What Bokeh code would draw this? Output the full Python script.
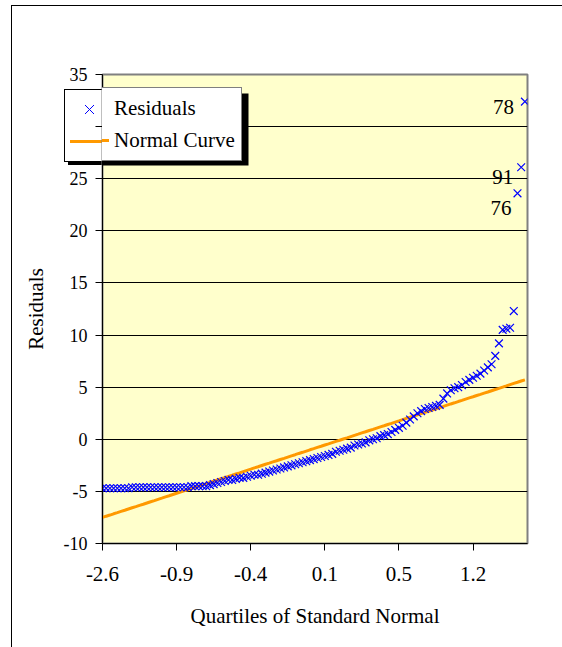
from bokeh.plotting import figure
from bokeh.models import (ColumnDataSource, FixedTicker, Legend, LegendItem,
                          BoxAnnotation, Range1d)
from bokeh.core.properties import value
from bokeh.embed import file_html
from bokeh.resources import INLINE

# ---------------- data ----------------
tick_positions = [1, 21, 41, 61, 81, 101]
tick_labels = ["-2.6", "-0.9", "-0.4", "0.1", "0.5", "1.2"]
y_ticks = [-10, -5, 0, 5, 10, 15, 20, 25, 30, 35]

residuals = [
    -4.7, -4.7, -4.7, -4.7, -4.7, -4.7, -4.7, -4.7,
    -4.6, -4.6, -4.6, -4.6, -4.6, -4.6, -4.6, -4.6,
    -4.6, -4.6, -4.6, -4.6, -4.6, -4.6, -4.6, -4.6,
    -4.5, -4.5, -4.5, -4.5,
    -4.5, -4.4, -4.3, -4.2, -4.1, -4.0, -3.9, -3.9, -3.8, -3.7,
    -3.7, -3.6, -3.5, -3.4, -3.4, -3.3, -3.2, -3.1, -3.0, -2.9, -2.8, -2.7, -2.6,
    -2.5, -2.4, -2.3, -2.2, -2.1, -2.0, -1.9, -1.8, -1.7, -1.6, -1.5, -1.4, -1.2,
    -1.1, -1.0, -0.9, -0.8, -0.6, -0.5, -0.4, -0.3, -0.1, 0.0, 0.1, 0.3, 0.4,
    0.5, 0.7, 0.9, 1.1, 1.3, 1.6, 1.9, 2.2, 2.5, 2.7,
    2.9, 3.0, 3.1, 3.2, 3.3, 3.9, 4.4, 4.7, 4.9, 5.0, 5.2, 5.5, 5.7,
    5.9, 6.1, 6.3, 6.6, 6.9, 7.2, 8.0, 9.2, 10.5, 10.6, 10.7, 12.3,
    23.6, 26.1, 32.4,
]

normal_curve = [
    -7.50, -7.38, -7.27, -7.15, -7.04, -6.92, -6.81, -6.69, -6.57, -6.46,
    -6.34, -6.23, -6.11, -5.99, -5.88, -5.76, -5.65, -5.53, -5.42, -5.30,
    -5.18, -5.07, -4.95, -4.84, -4.72, -4.60, -4.49, -4.37, -4.26, -4.14,
    -4.03, -3.91, -3.79, -3.68, -3.56, -3.45, -3.33, -3.22, -3.10, -2.98,
    -2.87, -2.75, -2.64, -2.52, -2.40, -2.29, -2.17, -2.06, -1.94, -1.83,
    -1.71, -1.59, -1.48, -1.36, -1.25, -1.13, -1.01, -0.90, -0.78, -0.67,
    -0.55, -0.44, -0.32, -0.20, -0.09, 0.03, 0.14, 0.26, 0.38, 0.49,
    0.61, 0.72, 0.84, 0.95, 1.07, 1.19, 1.30, 1.42, 1.53, 1.65,
    1.76, 1.88, 2.00, 2.11, 2.23, 2.34, 2.46, 2.58, 2.69, 2.81,
    2.92, 3.04, 3.15, 3.27, 3.39, 3.50, 3.62, 3.73, 3.85, 3.97,
    4.08, 4.20, 4.31, 4.43, 4.54, 4.66, 4.78, 4.89, 5.01, 5.12,
    5.24, 5.36, 5.47, 5.59, 5.70,
]

series_names = ["Residuals", "Normal Curve"]
label_obs = ["76", "91", "78"]          # labels for the last three points
# ---------------------------------------

FONT = "Liberation Serif"
BLUE = "#0000FF"
ORANGE = "#FF9900"

idx = list(range(1, len(residuals) + 1))
src = ColumnDataSource(dict(x=idx, resid=residuals, normal=normal_curve))

lab_src = ColumnDataSource(dict(x=idx[-3:], y=residuals[-3:], text=label_obs,
                                dx=[-6, -8, -11], dy=[15, 10, 5]))

p = figure(width=562, height=647, output_backend="svg", toolbar_location=None,
           x_range=Range1d(1, 115.7), y_range=Range1d(-10, 35),
           min_border_left=102, min_border_right=35,
           min_border_top=74, min_border_bottom=104)

p.background_fill_color = "#FFFFCC"
p.border_fill_alpha = 0
p.outline_line_color = "#808080"
p.outline_line_width = 2

# Page styling drawn behind the transparent border area:
# the outer chart-area frame and the part of the legend box that lies
# left of the plot frame (the frame clips the legend there).
_layers = [
    ("linear-gradient(45deg, transparent 46%, #0000FF 46%, #0000FF 54%, transparent 54%)", "9px 9px", "85px 105px"),
    ("linear-gradient(-45deg, transparent 46%, #0000FF 46%, #0000FF 54%, transparent 54%)", "9px 9px", "85px 105px"),
    ("linear-gradient(#FF9900,#FF9900)", "38px 3px", "70px 140px"),
    ("linear-gradient(#000,#000)", "1px 73px", "64px 89px"),
    ("linear-gradient(#000,#000)", "38px 1px", "64px 89px"),
    ("linear-gradient(#000,#000)", "38px 1px", "64px 161px"),
    ("linear-gradient(#fff,#fff)", "38px 72px", "64px 89px"),
    ("linear-gradient(#000,#000)", "34px 4px", "68px 161px"),
    ("linear-gradient(#000,#000)", "1px 100%", "11px 5px"),
    ("linear-gradient(#000,#000)", "100% 1px", "11px 5px"),
]
p.styles = {
    "background-color": "white",
    "background-image": ", ".join(l[0] for l in _layers),
    "background-size": ", ".join(l[1] for l in _layers),
    "background-position": ", ".join(l[2] for l in _layers),
    "background-repeat": "no-repeat",
}

# grid
p.xgrid.visible = False
p.ygrid.ticker = FixedTicker(ticks=y_ticks[1:-1])
p.ygrid.grid_line_color = "black"
p.ygrid.grid_line_width = 1

# axes
p.xaxis.ticker = FixedTicker(ticks=tick_positions)
p.xaxis.major_label_overrides = {t: l for t, l in zip(tick_positions, tick_labels)}
p.yaxis.ticker = FixedTicker(ticks=y_ticks)
# the "30" label sits behind the legend box in the original
p.yaxis.major_label_overrides = {t: ("" if t == 30 else str(t)) for t in y_ticks}
for ax in (p.xaxis[0], p.yaxis[0]):
    ax.axis_line_color = "black"
    ax.major_tick_line_color = "black"
    ax.major_tick_out = 7
    ax.major_tick_in = 0
    ax.minor_tick_line_color = None
    ax.major_label_text_font = FONT
    ax.axis_label_text_font = FONT
    ax.axis_label_text_font_style = "normal"
    ax.axis_label_text_font_size = "21px"
    ax.axis_label_text_color = "black"
    ax.major_label_text_color = "black"

p.xaxis.major_label_text_font_size = "21px"
p.yaxis.major_label_text_font_size = "18px"
p.xaxis.major_label_standoff = 16
p.yaxis.major_label_standoff = 8
p.xaxis.axis_label = "Quartiles of Standard Normal"
p.yaxis.axis_label = "Residuals"
p.xaxis.axis_label_standoff = 20
p.yaxis.axis_label_standoff = 13

# legend shadow (in-frame part)
shadow = BoxAnnotation(left=68, right=248, top=93, bottom=165,
                       left_units="canvas", right_units="canvas",
                       top_units="canvas", bottom_units="canvas",
                       fill_color="black", fill_alpha=1, line_alpha=0, level="underlay")
p.add_layout(shadow)

# glyphs
r_norm = p.line("x", "normal", source=src, line_color=ORANGE, line_width=3)
r_res = p.scatter("x", "resid", source=src, marker="x", size=11,
                  line_color=BLUE, line_width=1.2)

p.text("x", "y", text="text", source=lab_src, x_offset="dx", y_offset="dy",
       text_align="right", text_baseline="middle",
       text_font=value(FONT), text_font_size=value("21px"), text_color="black")

legend = Legend(items=[LegendItem(label=series_names[0], renderers=[r_res]),
                       LegendItem(label=series_names[1], renderers=[r_norm])],
                location=(-38, 382))
legend.border_line_color = "black"
legend.border_line_width = 1
legend.background_fill_color = "white"
legend.background_fill_alpha = 1
legend.label_text_font = FONT
legend.label_text_font_size = "21px"
legend.label_text_color = "black"
legend.glyph_width = 38
legend.glyph_height = 28
legend.label_height = 28
legend.padding = 6
legend.spacing = 4
legend.label_standoff = 5
legend.margin = 0
p.add_layout(legend, "center")

open("out.html", "w").write(file_html(p, INLINE))
